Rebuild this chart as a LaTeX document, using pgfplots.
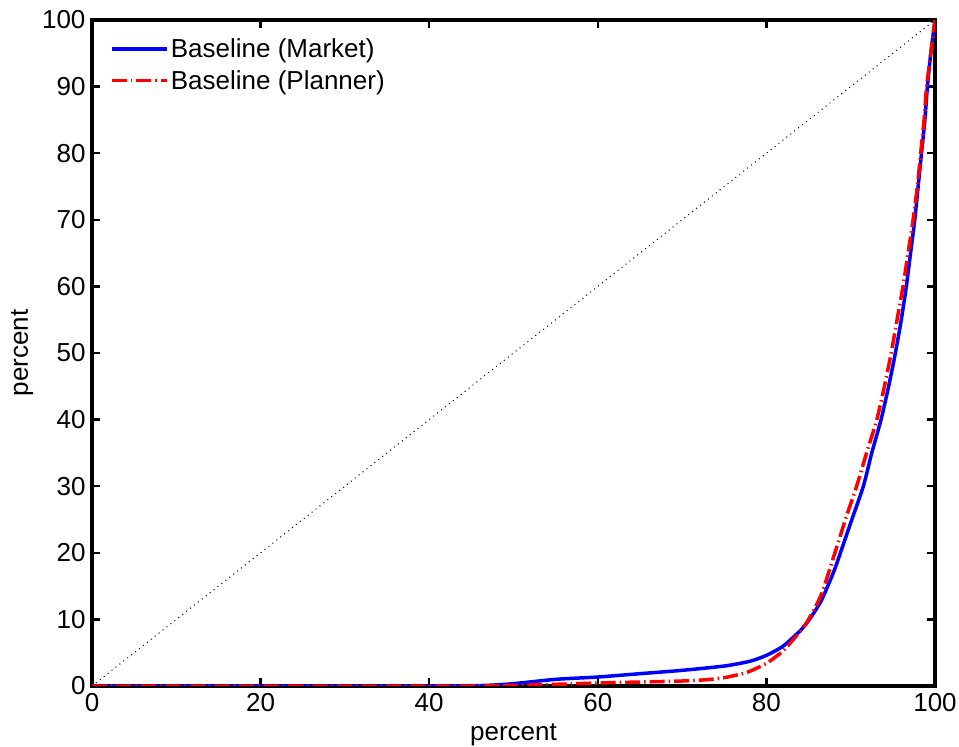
\documentclass[border=0pt]{standalone}
\usepackage{pgfplots}
\pgfplotsset{compat=1.18}
\usepackage{fontspec}
\setmainfont{Liberation Sans}
\begin{document}
\begin{tikzpicture}
\path[use as bounding box] (-92pt,-61pt) rectangle (867pt,686pt);
\begin{axis}[
  at={(0,0)}, anchor=south west,
  scale only axis,
  width=843pt, height=666pt,
  xmin=0, xmax=100, ymin=0, ymax=100,
  xtick={0,20,...,100},
  ytick={0,10,...,100},
  tick align=inside,
  major tick length=8pt,
  every tick/.style={line width=2.5pt, black},
  axis line style={line width=3.2pt},
  font=\fontsize{26}{30}\selectfont,
  /pgf/number format/assume math mode=true,
  xlabel={percent}, ylabel={percent},
  xlabel style={yshift=-5pt},
  ylabel style={yshift=2pt},
  xticklabel style={yshift=-4pt},
  yticklabel style={xshift=-3pt},
  legend style={draw=none, fill=none, at={(0.021,0.975)}, anchor=north west,
    font=\fontsize{26}{30}\selectfont, row sep=7pt, inner sep=0pt},
  legend cell align=left,
  legend image code/.code={\draw[#1] plot coordinates {(0cm,0cm) (1cm,0cm) (1.95cm,0cm)};},
]
\addplot[blue, line width=3.5pt, smooth, tension=0.4] coordinates {
(0,0) (40,0) (45,0.05) (47,0.1) (50,0.35) (55,1.0) (60,1.35) (65,1.85) (70,2.35)
(75,3.0) (78,3.7) (80,4.6) (82,6.0) (84,8.3) (85,9.8) (86.5,12.8) (88,17.2)
(88.7,19.7) (90,24.5) (91.5,30) (92.5,35) (93.6,40) (94.5,45) (95.3,50) (96,55)
(96.6,60) (97.1,65) (97.6,70) (98,75) (98.4,80) (98.8,85) (99.1,90) (99.5,95) (100,100)
};
\addlegendentry{Baseline (Market)}
\addplot[red, line width=3.5pt, smooth, tension=0.4, dash pattern=on 15pt off 4pt on 1.5pt off 4pt] coordinates {
(0,0) (45,0) (48,0.05) (52,0.15) (55,0.25) (60,0.45) (65,0.6) (70,0.75) (73,0.95)
(75,1.25) (77,1.8) (78,2.2) (80,3.4) (82,5.3) (84,8.2) (85,10) (86.5,13.7) (88,19.5)
(89.5,25.5) (90.7,30) (92,35.5) (93.1,40) (94,45) (94.8,50) (95.5,55) (96.2,60)
(96.8,65) (97.4,70) (97.9,75) (98.3,80) (98.7,85) (99,90) (99.5,95) (100,100)
};
\addlegendentry{Baseline (Planner)}
\addplot[black, line width=1pt, dash pattern=on 1pt off 4pt, forget plot] coordinates {(0,0) (100,100)};
\end{axis}
\end{tikzpicture}
\end{document}
